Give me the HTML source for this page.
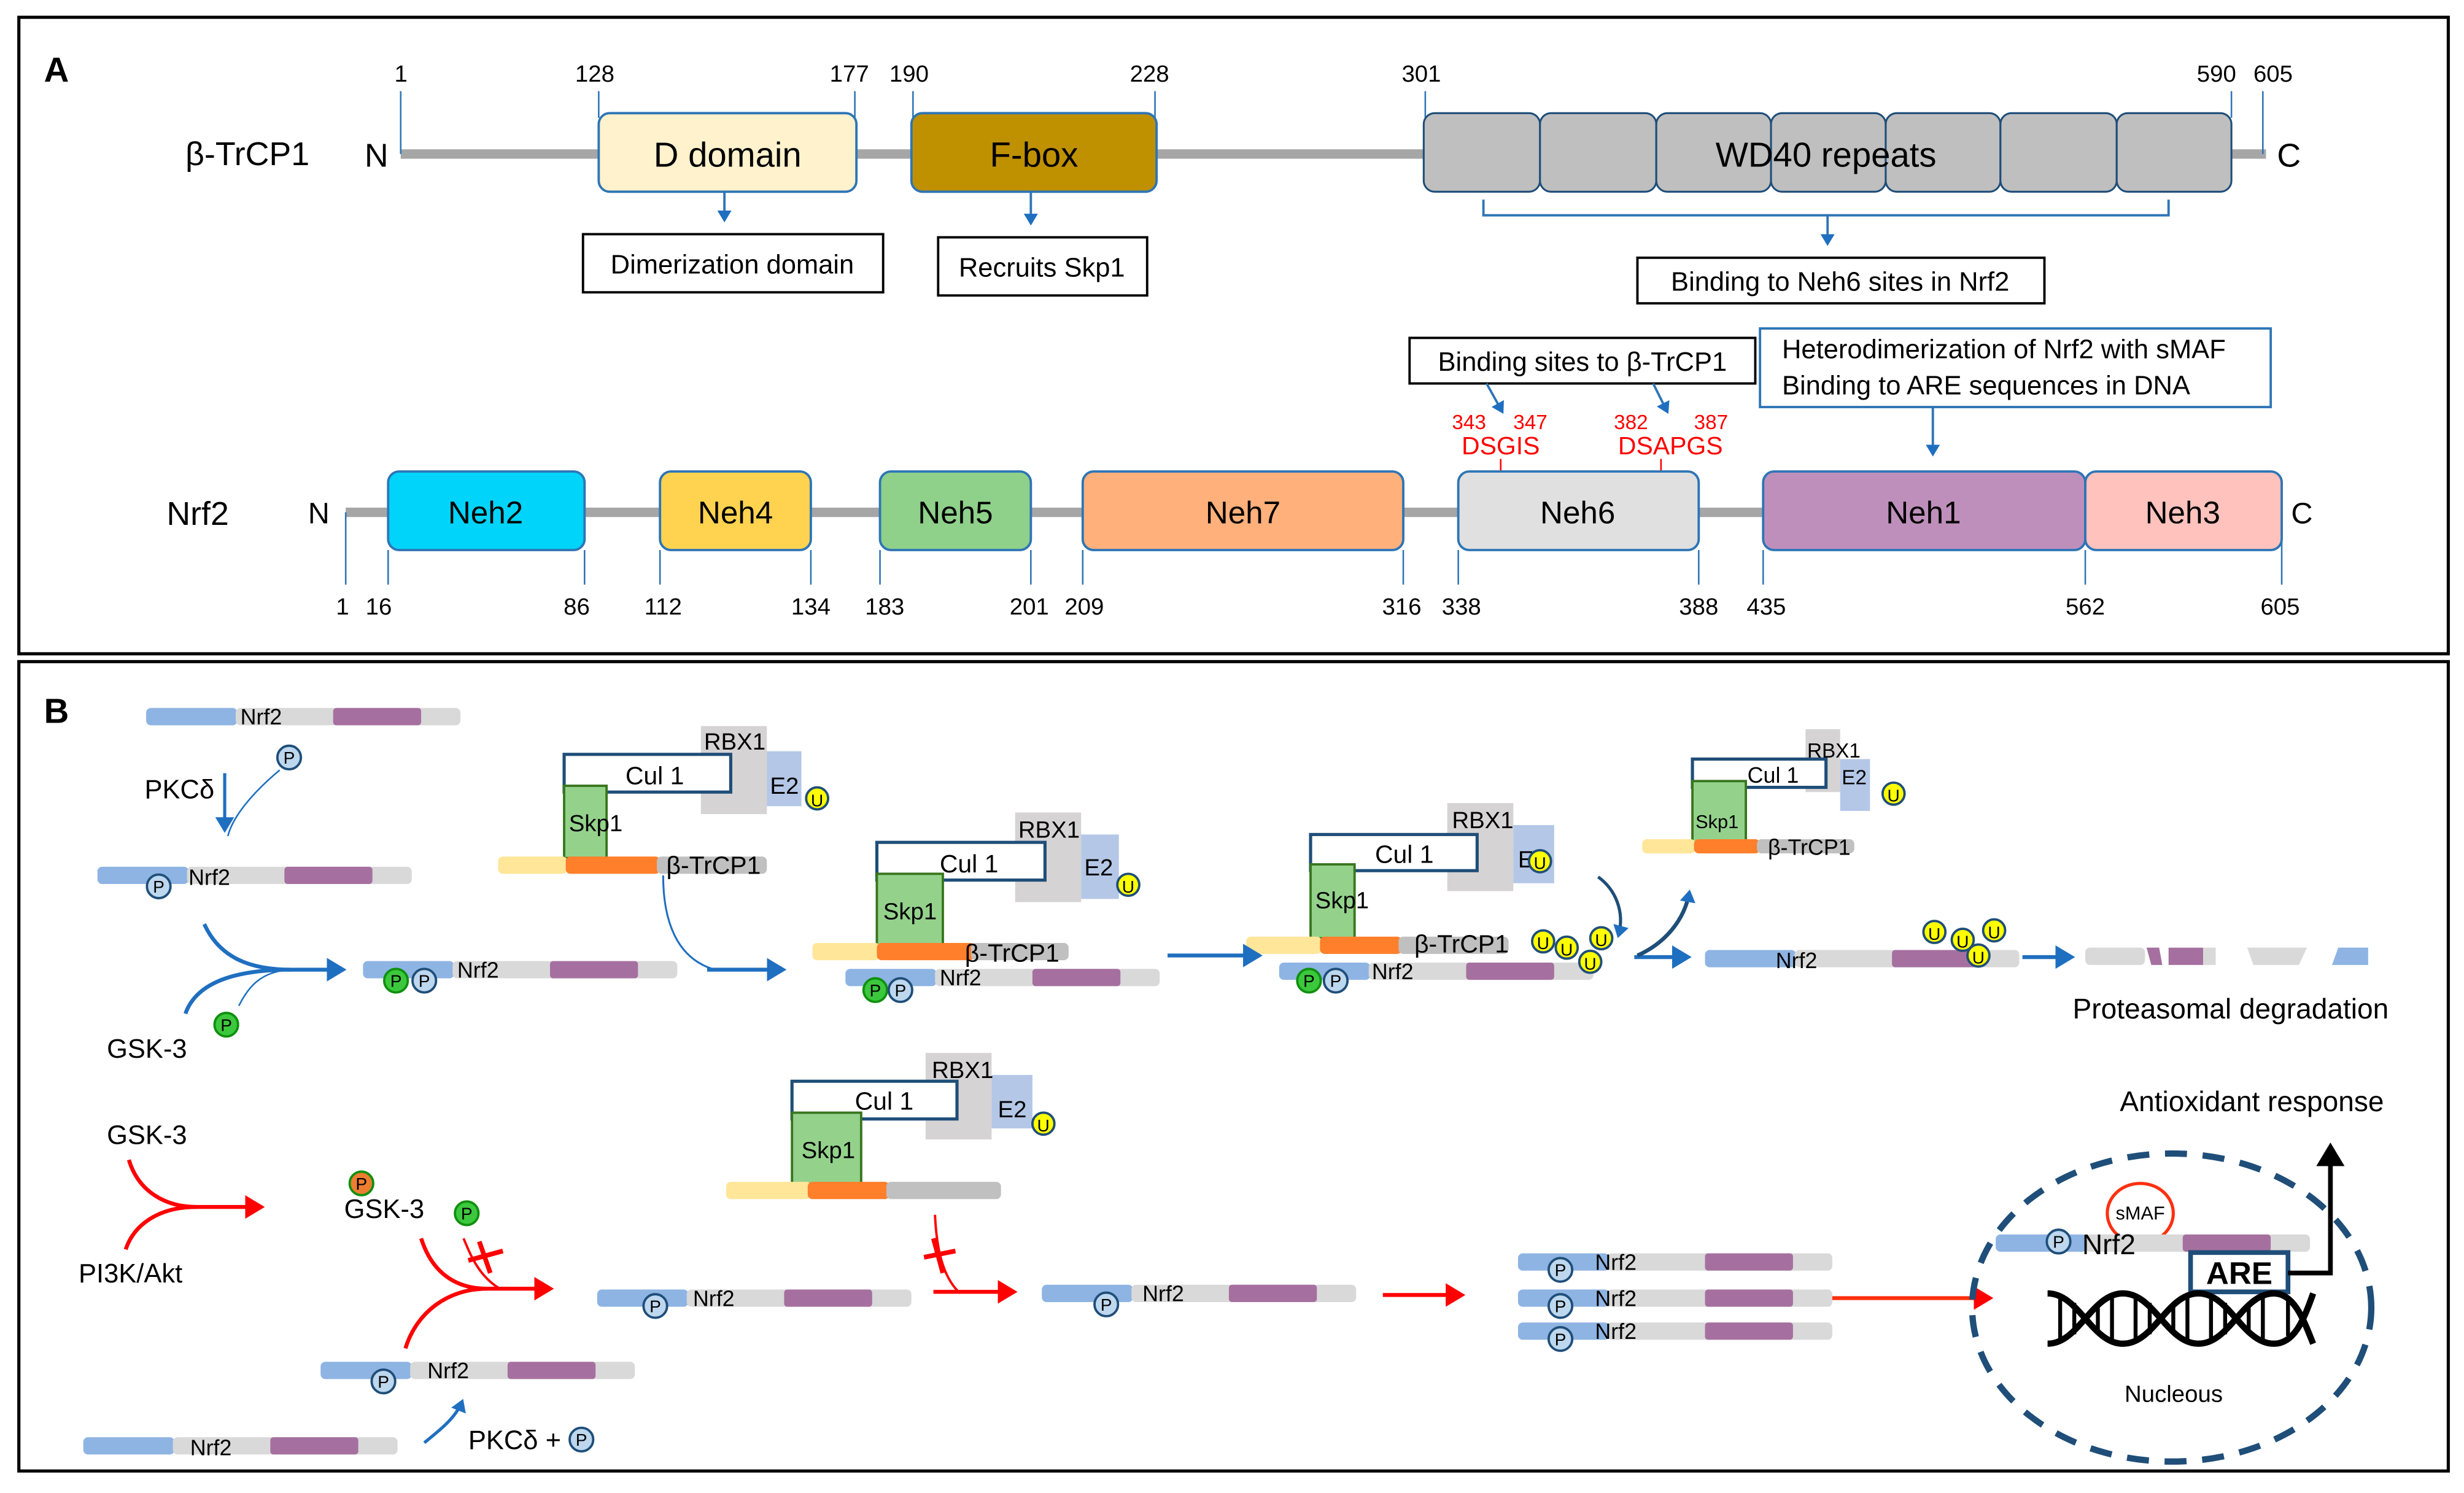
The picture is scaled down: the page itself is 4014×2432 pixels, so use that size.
<!DOCTYPE html>
<html><head><meta charset="utf-8"><style>
html,body{margin:0;padding:0;background:#fff}
svg{display:block}
text{font-family:"Liberation Sans Narrow","Liberation Sans",sans-serif;fill:#000}
.w{font-family:"Liberation Sans",sans-serif}
</style></head><body>
<svg width="4014" height="2432" viewBox="0 0 1568 950" preserveAspectRatio="none" xmlns="http://www.w3.org/2000/svg">
<defs>
<g id="bar">
<rect x="0" y="-5.5" width="58" height="11" rx="3" fill="#8eb4e3"/>
<rect x="57" y="-5.5" width="143" height="11" rx="3" fill="#d9d9d9"/>
<rect x="119" y="-5.5" width="56" height="11" rx="2" fill="#a5709f"/>
</g>
<g id="pb"><circle r="7.5" fill="#bdd7ee" stroke="#1f4e79" stroke-width="1.5"/></g>
<g id="pg"><circle r="7.5" fill="#3cc83c" stroke="#109010" stroke-width="1.5"/></g>
<g id="uu"><circle r="7" fill="#ffff00" stroke="#1f4e79" stroke-width="1.5"/></g>
<marker id="ab" markerWidth="6" markerHeight="6" refX="4" refY="3" orient="auto" markerUnits="strokeWidth"><path d="M0,0 L5,3 L0,6 z" fill="#1f6fc0"/></marker>
<marker id="ar" markerWidth="6" markerHeight="6" refX="4" refY="3" orient="auto" markerUnits="strokeWidth"><path d="M0,0 L5,3 L0,6 z" fill="#ff0000"/></marker>
<marker id="ak" markerWidth="6" markerHeight="6" refX="4" refY="3" orient="auto" markerUnits="strokeWidth"><path d="M0,0 L5,3 L0,6 z" fill="#000"/></marker>
<marker id="abs" markerWidth="10" markerHeight="10" refX="6" refY="5" orient="auto" markerUnits="userSpaceOnUse"><path d="M0,0 L8,5 L0,10 z" fill="#1f6fc0"/></marker>
</defs>

<!-- Panel frames -->
<rect x="12" y="11" width="1546" height="405" fill="none" stroke="#000" stroke-width="2"/>
<rect x="12" y="421" width="1546" height="515" fill="none" stroke="#000" stroke-width="2"/>
<text x="28" y="52" font-size="22" font-weight="bold" class="w">A</text>
<text x="28" y="460" font-size="22" font-weight="bold" class="w">B</text>

<!-- beta-TrCP1 -->
<text x="118" y="105" font-size="21">β-TrCP1</text>
<text x="232" y="106" font-size="21">N</text>
<rect x="255" y="95" width="1187" height="6" fill="#a6a6a6"/>
<g stroke="#2e75b6" stroke-width="1">
<line x1="255" y1="58" x2="255" y2="98"/><line x1="381" y1="58" x2="381" y2="75"/><line x1="544" y1="58" x2="544" y2="75"/>
<line x1="581" y1="58" x2="581" y2="75"/><line x1="735" y1="58" x2="735" y2="75"/><line x1="907" y1="58" x2="907" y2="75"/>
<line x1="1420" y1="58" x2="1420" y2="75"/><line x1="1440" y1="58" x2="1440" y2="98"/>
</g>
<g font-size="15">
<text x="251" y="52">1</text><text x="366" y="52">128</text><text x="528" y="52">177</text><text x="566" y="52">190</text>
<text x="719" y="52">228</text><text x="892" y="52">301</text><text x="1398" y="52">590</text><text x="1434" y="52">605</text>
</g>
<rect x="381" y="72" width="164" height="50" rx="7" fill="#fff2cc" stroke="#2e75b6" stroke-width="1.5"/>
<text x="463" y="106" font-size="22" text-anchor="middle">D domain</text>
<rect x="580" y="72" width="156" height="50" rx="7" fill="#bf9000" stroke="#2e75b6" stroke-width="1.5"/>
<text x="658" y="106" font-size="22" text-anchor="middle">F-box</text>
<g fill="#bfbfbf" stroke="#1f4e79" stroke-width="1.2">
<rect x="906" y="72" width="74" height="50" rx="7"/><rect x="980" y="72" width="74" height="50" rx="7"/>
<rect x="1054" y="72" width="73" height="50" rx="7"/><rect x="1127" y="72" width="73" height="50" rx="7"/>
<rect x="1200" y="72" width="73" height="50" rx="7"/><rect x="1273" y="72" width="74" height="50" rx="7"/>
<rect x="1347" y="72" width="73" height="50" rx="7"/>
</g>
<text x="1162" y="106" font-size="22" text-anchor="middle">WD40 repeats</text>
<text x="1449" y="106" font-size="21">C</text>
<g stroke="#2e75b6" stroke-width="1.5" fill="none">
<line x1="461" y1="122" x2="461" y2="140" marker-end="url(#ab)"/>
<line x1="656" y1="122" x2="656" y2="142" marker-end="url(#ab)"/>
<path d="M944,127 V137 H1380 V127"/>
<line x1="1163" y1="137" x2="1163" y2="155" marker-end="url(#ab)"/>
</g>
<rect x="371" y="149" width="191" height="37" fill="#fff" stroke="#000" stroke-width="1.5"/>
<text x="466" y="174" font-size="17" text-anchor="middle">Dimerization domain</text>
<rect x="597" y="151" width="133" height="37" fill="#fff" stroke="#000" stroke-width="1.5"/>
<text x="663" y="176" font-size="17" text-anchor="middle">Recruits Skp1</text>
<rect x="1042" y="164" width="259" height="29" fill="#fff" stroke="#000" stroke-width="1.5"/>
<text x="1171" y="185" font-size="17" text-anchor="middle">Binding to Neh6 sites in Nrf2</text>

<!-- Nrf2 domains -->
<rect x="897" y="215" width="220" height="29" fill="#fff" stroke="#000" stroke-width="1.5"/>
<text x="1007" y="236" font-size="17" text-anchor="middle">Binding sites to β-TrCP1</text>
<rect x="1120" y="209" width="325" height="50" fill="#fff" stroke="#2e75b6" stroke-width="1.5"/>
<text x="1134" y="228" font-size="17">Heterodimerization of Nrf2 with sMAF</text>
<text x="1134" y="251" font-size="17">Binding to ARE sequences in DNA</text>
<g stroke="#2e75b6" stroke-width="1.5" fill="none">
<line x1="946" y1="244" x2="956" y2="262" marker-end="url(#ab)"/>
<line x1="1052" y1="244" x2="1061" y2="262" marker-end="url(#ab)"/>
<line x1="1230" y1="259" x2="1230" y2="289" marker-end="url(#ab)"/>
</g>
<g fill="#ff0000" font-size="13">
<text x="924" y="273" style="fill:#ff0000">343</text><text x="963" y="273" style="fill:#ff0000">347</text>
<text x="1027" y="273" style="fill:#ff0000">382</text><text x="1078" y="273" style="fill:#ff0000">387</text>
<text x="955" y="289" font-size="16" text-anchor="middle" style="fill:#ff0000">DSGIS</text>
<text x="1063" y="289" font-size="16" text-anchor="middle" style="fill:#ff0000">DSAPGS</text>
</g>
<line x1="955" y1="292" x2="955" y2="300" stroke="#ff0000"/><line x1="1057" y1="292" x2="1057" y2="300" stroke="#ff0000"/>
<text x="106" y="334" font-size="21">Nrf2</text>
<text x="196" y="333" font-size="19">N</text>
<rect x="220" y="323" width="1232" height="6" fill="#a6a6a6"/>
<g stroke="#2e75b6" stroke-width="1.5">
<rect x="247" y="300" width="125" height="50" rx="7" fill="#00d4fa"/>
<rect x="420" y="300" width="96" height="50" rx="7" fill="#ffd34f"/>
<rect x="560" y="300" width="96" height="50" rx="7" fill="#8fd08a"/>
<rect x="689" y="300" width="204" height="50" rx="7" fill="#ffb07b"/>
<rect x="928" y="300" width="153" height="50" rx="7" fill="#e0e0e0"/>
<rect x="1122" y="300" width="205" height="50" rx="7" fill="#bf8fbc"/>
<rect x="1327" y="300" width="125" height="50" rx="7" fill="#ffc2bd"/>
</g>
<g font-size="20" text-anchor="middle">
<text x="309" y="333">Neh2</text><text x="468" y="333">Neh4</text><text x="608" y="333">Neh5</text>
<text x="791" y="333">Neh7</text><text x="1004" y="333">Neh6</text><text x="1224" y="333">Neh1</text><text x="1389" y="333">Neh3</text>
</g>
<text x="1458" y="333" font-size="19">C</text>
<g stroke="#2e75b6" stroke-width="1">
<line x1="220" y1="326" x2="220" y2="372"/><line x1="247" y1="350" x2="247" y2="372"/><line x1="372" y1="350" x2="372" y2="372"/>
<line x1="420" y1="350" x2="420" y2="372"/><line x1="516" y1="350" x2="516" y2="372"/><line x1="560" y1="350" x2="560" y2="372"/>
<line x1="656" y1="350" x2="656" y2="372"/><line x1="689" y1="350" x2="689" y2="372"/><line x1="893" y1="350" x2="893" y2="372"/>
<line x1="928" y1="350" x2="928" y2="372"/><line x1="1081" y1="350" x2="1081" y2="372"/><line x1="1122" y1="350" x2="1122" y2="372"/>
<line x1="1327" y1="350" x2="1327" y2="372"/><line x1="1452" y1="326" x2="1452" y2="372"/>
</g>
<g font-size="15" text-anchor="middle">
<text x="218" y="391">1</text><text x="241" y="391">16</text><text x="367" y="391">86</text><text x="422" y="391">112</text>
<text x="516" y="391">134</text><text x="563" y="391">183</text><text x="655" y="391">201</text><text x="690" y="391">209</text>
<text x="892" y="391">316</text><text x="930" y="391">338</text><text x="1081" y="391">388</text><text x="1124" y="391">435</text>
<text x="1327" y="391">562</text><text x="1451" y="391">605</text>
</g>

<!-- ========== Panel B ========== -->
<!-- Nrf2 bars -->
<use href="#bar" x="93" y="456"/><text x="153" y="461" font-size="14">Nrf2</text>
<use href="#bar" x="62" y="557"/><use href="#pb" x="101" y="564"/><text x="120" y="563" font-size="14">Nrf2</text>
<use href="#bar" x="231" y="617"/><use href="#pg" x="252" y="624"/><use href="#pb" x="270" y="624"/><text x="291" y="622" font-size="14">Nrf2</text>
<use href="#bar" x="538" y="622"/><use href="#pg" x="557" y="630"/><use href="#pb" x="573" y="630"/><text x="598" y="627" font-size="14">Nrf2</text>
<use href="#bar" x="814" y="618"/><use href="#pg" x="833" y="624"/><use href="#pb" x="850" y="624"/><text x="873" y="623" font-size="14">Nrf2</text>
<use href="#bar" x="1085" y="610"/><text x="1130" y="616" font-size="14">Nrf2</text>
<!-- degraded -->
<g>
<rect x="1327" y="603" width="38" height="11" rx="3" fill="#d9d9d9"/>
<path d="M1366,603 L1374,603 L1376,614 L1369,614 z" fill="#a5709f"/>
<rect x="1380" y="603" width="22" height="11" fill="#a5709f"/><rect x="1402" y="603" width="8" height="11" fill="#d9d9d9"/>
<path d="M1430,603 L1468,603 L1463,614 L1434,614 z" fill="#d9d9d9"/>
<path d="M1488,603 L1507,603 L1507,614 L1484,614 z" fill="#8eb4e3"/>
</g>
<text x="1319" y="648" font-size="18">Proteasomal degradation</text>

<use href="#bar" x="380" y="826"/><use href="#pb" x="417" y="831"/><text x="441" y="831" font-size="14">Nrf2</text>
<use href="#bar" x="663" y="823"/><use href="#pb" x="704" y="830"/><text x="727" y="828" font-size="14">Nrf2</text>
<use href="#bar" x="966" y="803"/><use href="#pb" x="993" y="808"/><text x="1015" y="808" font-size="14">Nrf2</text>
<use href="#bar" x="966" y="826"/><use href="#pb" x="993" y="831"/><text x="1015" y="831" font-size="14">Nrf2</text>
<use href="#bar" x="966" y="847"/><use href="#pb" x="993" y="852"/><text x="1015" y="852" font-size="14">Nrf2</text>
<use href="#bar" x="204" y="872"/><use href="#pb" x="244" y="879"/><text x="272" y="877" font-size="14">Nrf2</text>
<use href="#bar" x="53" y="920"/><text x="121" y="926" font-size="14">Nrf2</text>

<!-- SCF complex 1 -->
<rect x="446" y="462" width="42" height="56" fill="#d5d3d3"/>
<rect x="488" y="478" width="22" height="35" fill="#b4c7e7"/>
<text x="448" y="477" font-size="15">RBX1</text><text x="490" y="505" font-size="15">E2</text>
<rect x="359" y="480" width="106" height="24" fill="#fff" stroke="#1f4e79" stroke-width="2"/>
<text x="398" y="499" font-size="16">Cul 1</text>
<rect x="359" y="500" width="27" height="46" fill="#94d28c" stroke="#38761d" stroke-width="1.5"/>
<text x="362" y="529" font-size="15">Skp1</text>
<rect x="317" y="545" width="44" height="11" rx="3" fill="#ffe699"/><rect x="360" y="545" width="60" height="11" rx="3" fill="#ff7f2a"/><rect x="418" y="545" width="70" height="11" rx="3" fill="#c0c0c0"/>
<text x="424" y="556" font-size="16">β-TrCP1</text>
<use href="#uu" x="520" y="508"/><text x="516" y="513" font-size="11">U</text>

<!-- SCF complex 2 -->
<rect x="646" y="517" width="42" height="57" fill="#d5d3d3"/>
<rect x="688" y="531" width="24" height="41" fill="#b4c7e7"/>
<text x="648" y="533" font-size="15">RBX1</text><text x="690" y="557" font-size="15">E2</text>
<rect x="558" y="536" width="107" height="24" fill="#fff" stroke="#1f4e79" stroke-width="2"/>
<text x="598" y="555" font-size="16">Cul 1</text>
<rect x="558" y="556" width="42" height="46" fill="#94d28c" stroke="#38761d" stroke-width="1.5"/>
<text x="562" y="585" font-size="15">Skp1</text>
<rect x="517" y="600" width="43" height="11" rx="3" fill="#ffe699"/><rect x="558" y="600" width="62" height="11" rx="3" fill="#ff7f2a"/><rect x="618" y="600" width="62" height="11" rx="3" fill="#c0c0c0"/>
<text x="614" y="612" font-size="16">β-TrCP1</text>
<use href="#uu" x="718" y="563"/><text x="714" y="568" font-size="11">U</text>

<!-- SCF complex 3 -->
<rect x="921" y="511" width="42" height="56" fill="#d5d3d3"/>
<rect x="963" y="525" width="26" height="37" fill="#b4c7e7"/>
<text x="924" y="527" font-size="15">RBX1</text><text x="966" y="552" font-size="15">E2</text>
<rect x="834" y="531" width="106" height="23" fill="#fff" stroke="#1f4e79" stroke-width="2"/>
<text x="875" y="549" font-size="16">Cul 1</text>
<rect x="834" y="550" width="28" height="47" fill="#94d28c" stroke="#38761d" stroke-width="1.5"/>
<text x="837" y="578" font-size="15">Skp1</text>
<rect x="793" y="596" width="48" height="11" rx="3" fill="#ffe699"/><rect x="840" y="596" width="52" height="11" rx="3" fill="#ff7f2a"/><rect x="890" y="596" width="70" height="11" rx="3" fill="#c0c0c0"/>
<text x="900" y="606" font-size="16">β-TrCP1</text>
<use href="#uu" x="980" y="548"/><text x="976" y="553" font-size="11">U</text>
<use href="#uu" x="982" y="599"/><text x="978" y="604" font-size="11">U</text>
<use href="#uu" x="997" y="603"/><text x="993" y="608" font-size="11">U</text>
<use href="#uu" x="1019" y="597"/><text x="1015" y="602" font-size="11">U</text>
<use href="#uu" x="1012" y="612"/><text x="1008" y="617" font-size="11">U</text>

<!-- SCF complex 4 (small) -->
<rect x="1149" y="464" width="22" height="40" fill="#d5d3d3"/>
<rect x="1171" y="483" width="19" height="33" fill="#b4c7e7"/>
<text x="1150" y="482" font-size="13">RBX1</text><text x="1172" y="499" font-size="13">E2</text>
<rect x="1077" y="483" width="85" height="18" fill="#fff" stroke="#1f4e79" stroke-width="2"/>
<text x="1112" y="498" font-size="14">Cul 1</text>
<rect x="1077" y="497" width="34" height="39" fill="#94d28c" stroke="#38761d" stroke-width="1.5"/>
<text x="1079" y="527" font-size="12">Skp1</text>
<rect x="1045" y="534" width="34" height="9" rx="3" fill="#ffe699"/><rect x="1078" y="534" width="42" height="9" rx="3" fill="#ff7f2a"/><rect x="1118" y="534" width="62" height="9" rx="3" fill="#c0c0c0"/>
<text x="1125" y="544" font-size="14">β-TrCP1</text>
<use href="#uu" x="1205" y="505"/><text x="1201" y="510" font-size="11">U</text>
<use href="#uu" x="1231" y="593"/><text x="1227" y="598" font-size="11">U</text>
<use href="#uu" x="1249" y="598"/><text x="1245" y="603" font-size="11">U</text>
<use href="#uu" x="1269" y="592"/><text x="1265" y="597" font-size="11">U</text>
<use href="#uu" x="1259" y="608"/><text x="1255" y="613" font-size="11">U</text>

<!-- SCF complex 5 (lower) -->
<rect x="589" y="670" width="42" height="55" fill="#d5d3d3"/>
<rect x="631" y="684" width="26" height="34" fill="#b4c7e7"/>
<text x="593" y="686" font-size="15">RBX1</text><text x="635" y="711" font-size="15">E2</text>
<rect x="504" y="688" width="105" height="24" fill="#fff" stroke="#1f4e79" stroke-width="2"/>
<text x="544" y="706" font-size="16">Cul 1</text>
<rect x="504" y="708" width="44" height="46" fill="#94d28c" stroke="#38761d" stroke-width="1.5"/>
<text x="510" y="737" font-size="15">Skp1</text>
<rect x="462" y="752" width="54" height="11" rx="3" fill="#ffe699"/><rect x="514" y="752" width="52" height="11" rx="3" fill="#ff7f2a"/><rect x="564" y="752" width="73" height="11" rx="3" fill="#c0c0c0"/>
<use href="#uu" x="664" y="715"/><text x="660" y="720" font-size="11">U</text>

<!-- P labels -->
<g font-size="11" text-anchor="middle">
<use href="#pb" x="184" y="482"/><text x="184" y="486">P</text>
<text x="101" y="568">P</text>
<text x="252" y="628">P</text><text x="270" y="628">P</text>
<text x="557" y="634">P</text><text x="573" y="634">P</text>
<text x="833" y="628">P</text><text x="850" y="628">P</text>
<use href="#pg" x="144" y="652"/><text x="144" y="656">P</text>
<text x="417" y="835">P</text><text x="704" y="834">P</text>
<text x="993" y="812">P</text><text x="993" y="835">P</text><text x="993" y="856">P</text>
<text x="244" y="883">P</text>
<use href="#pb" x="370" y="916"/><text x="370" y="920">P</text>
<circle cx="230" cy="753" r="7.5" fill="#ed7d31" stroke="#109010" stroke-width="1.5"/><text x="230" y="757">P</text>
<use href="#pg" x="297" y="772"/><text x="297" y="776">P</text>
<use href="#pb" x="1310" y="790"/><text x="1310" y="794">P</text>
</g>

<!-- Blue arrows top -->
<g stroke="#1f6fc0" fill="none">
<line x1="143" y1="492" x2="143" y2="528" stroke-width="2" marker-end="url(#ab)"/>
<path d="M178,490 C160,505 148,520 145,532" stroke-width="1"/>
<path d="M130,588 C140,610 160,617 185,617 H218" stroke-width="2.5" marker-end="url(#ab)"/>
<path d="M118,645 C125,625 150,617 185,617" stroke-width="2.5"/>
<path d="M152,640 C158,628 166,618 185,617" stroke-width="1"/>
<path d="M422,557 C422,585 430,610 455,617" stroke-width="1.2"/>
<line x1="450" y1="617" x2="498" y2="617" stroke-width="2.5" marker-end="url(#ab)"/>
<line x1="743" y1="608" x2="801" y2="608" stroke-width="2.5" marker-end="url(#ab)"/>
<line x1="1040" y1="609" x2="1074" y2="609" stroke-width="2.5" marker-end="url(#ab)"/>
<line x1="1287" y1="609" x2="1318" y2="609" stroke-width="2.5" marker-end="url(#ab)"/>
<path d="M1017,558 C1028,566 1034,580 1030,595" stroke="#1f4e79" stroke-width="2" marker-end="url(#abs)"/>
<path d="M1042,608 C1060,600 1072,585 1075,568" stroke="#1f4e79" stroke-width="2.5" marker-end="url(#abs)"/>
<path d="M270,918 C280,910 290,902 294,892" stroke-width="2" marker-end="url(#abs)"/>
</g>
<text x="92" y="508" font-size="17">PKCδ</text>
<text x="68" y="673" font-size="17">GSK-3</text>
<text x="298" y="922" font-size="17">PKCδ +</text>

<!-- Red arrows lower -->
<text x="68" y="728" font-size="17">GSK-3</text>
<text x="50" y="816" font-size="17">PI3K/Akt</text>
<text x="219" y="775" font-size="17">GSK-3</text>
<g stroke="#ff0000" fill="none">
<path d="M82,738 C88,758 105,768 125,768 H166" stroke-width="2.5" marker-end="url(#ar)"/>
<path d="M80,795 C85,780 100,768 125,768" stroke-width="2.5"/>
<path d="M268,788 C275,810 290,820 310,820 H350" stroke-width="2.5" marker-end="url(#ar)"/>
<path d="M258,858 C265,835 285,820 310,820" stroke-width="2.5"/>
<path d="M295,788 C300,800 305,812 318,820" stroke-width="1.5"/>
<path d="M305,790 L312,810 M298,802 L320,796" stroke-width="3"/>
<path d="M595,773 C596,795 600,812 610,822" stroke-width="1.5"/>
<path d="M594,788 L600,810 M588,800 L608,796" stroke-width="3"/>
<line x1="594" y1="822" x2="645" y2="822" stroke-width="2.5" marker-end="url(#ar)"/>
<line x1="880" y1="824" x2="930" y2="824" stroke-width="2.5" marker-end="url(#ar)"/>
<line x1="1166" y1="826" x2="1266" y2="826" stroke="#ff3010" stroke-width="2.5" marker-end="url(#ar)"/>
</g>

<!-- Nucleus -->
<ellipse cx="1382" cy="832" rx="127" ry="98" fill="none" stroke="#1f4e79" stroke-width="4" stroke-dasharray="14,10"/>
<ellipse cx="1362" cy="772" rx="21" ry="19" fill="#fff" stroke="#ff3010" stroke-width="2"/>
<text x="1362" y="776" font-size="12" text-anchor="middle">sMAF</text>
<use href="#bar" x="1270" y="791"/>
<use href="#pb" x="1310" y="790"/><text x="1310" y="794" font-size="11" text-anchor="middle">P</text>
<text x="1325" y="798" font-size="18">Nrf2</text>
<rect x="1394" y="797" width="62" height="25" fill="#fff" stroke="#1f4e79" stroke-width="3"/>
<text x="1425" y="817" font-size="20" font-weight="bold" text-anchor="middle">ARE</text>
<path d="M1456,810 H1483 V730" fill="none" stroke="#000" stroke-width="3" marker-end="url(#ak)"/>
<text x="1349" y="707" font-size="18">Antioxidant response</text>
<g stroke="#000" fill="none" stroke-width="4">
<path d="M1303,823 C1323,823 1331,855 1351,855 C1371,855 1379,823 1399,823 C1419,823 1427,855 1447,855 C1460,855 1466,840 1472,823"/>
<path d="M1303,855 C1323,855 1331,823 1351,823 C1371,823 1379,855 1399,855 C1419,855 1427,823 1447,823 C1460,823 1466,840 1472,855"/>
</g>
<g stroke="#000" stroke-width="2.5">
<line x1="1311" y1="826" x2="1311" y2="852"/><line x1="1320" y1="829" x2="1320" y2="849"/>
<line x1="1335" y1="829" x2="1335" y2="849"/><line x1="1344" y1="826" x2="1344" y2="852"/>
<line x1="1359" y1="826" x2="1359" y2="852"/><line x1="1368" y1="829" x2="1368" y2="849"/>
<line x1="1383" y1="829" x2="1383" y2="849"/><line x1="1392" y1="826" x2="1392" y2="852"/>
<line x1="1407" y1="826" x2="1407" y2="852"/><line x1="1416" y1="829" x2="1416" y2="849"/>
<line x1="1431" y1="829" x2="1431" y2="849"/><line x1="1440" y1="826" x2="1440" y2="852"/>
<line x1="1456" y1="828" x2="1456" y2="850"/>
</g>
<text x="1352" y="892" font-size="15">Nucleous</text>
</svg>
</body></html>
